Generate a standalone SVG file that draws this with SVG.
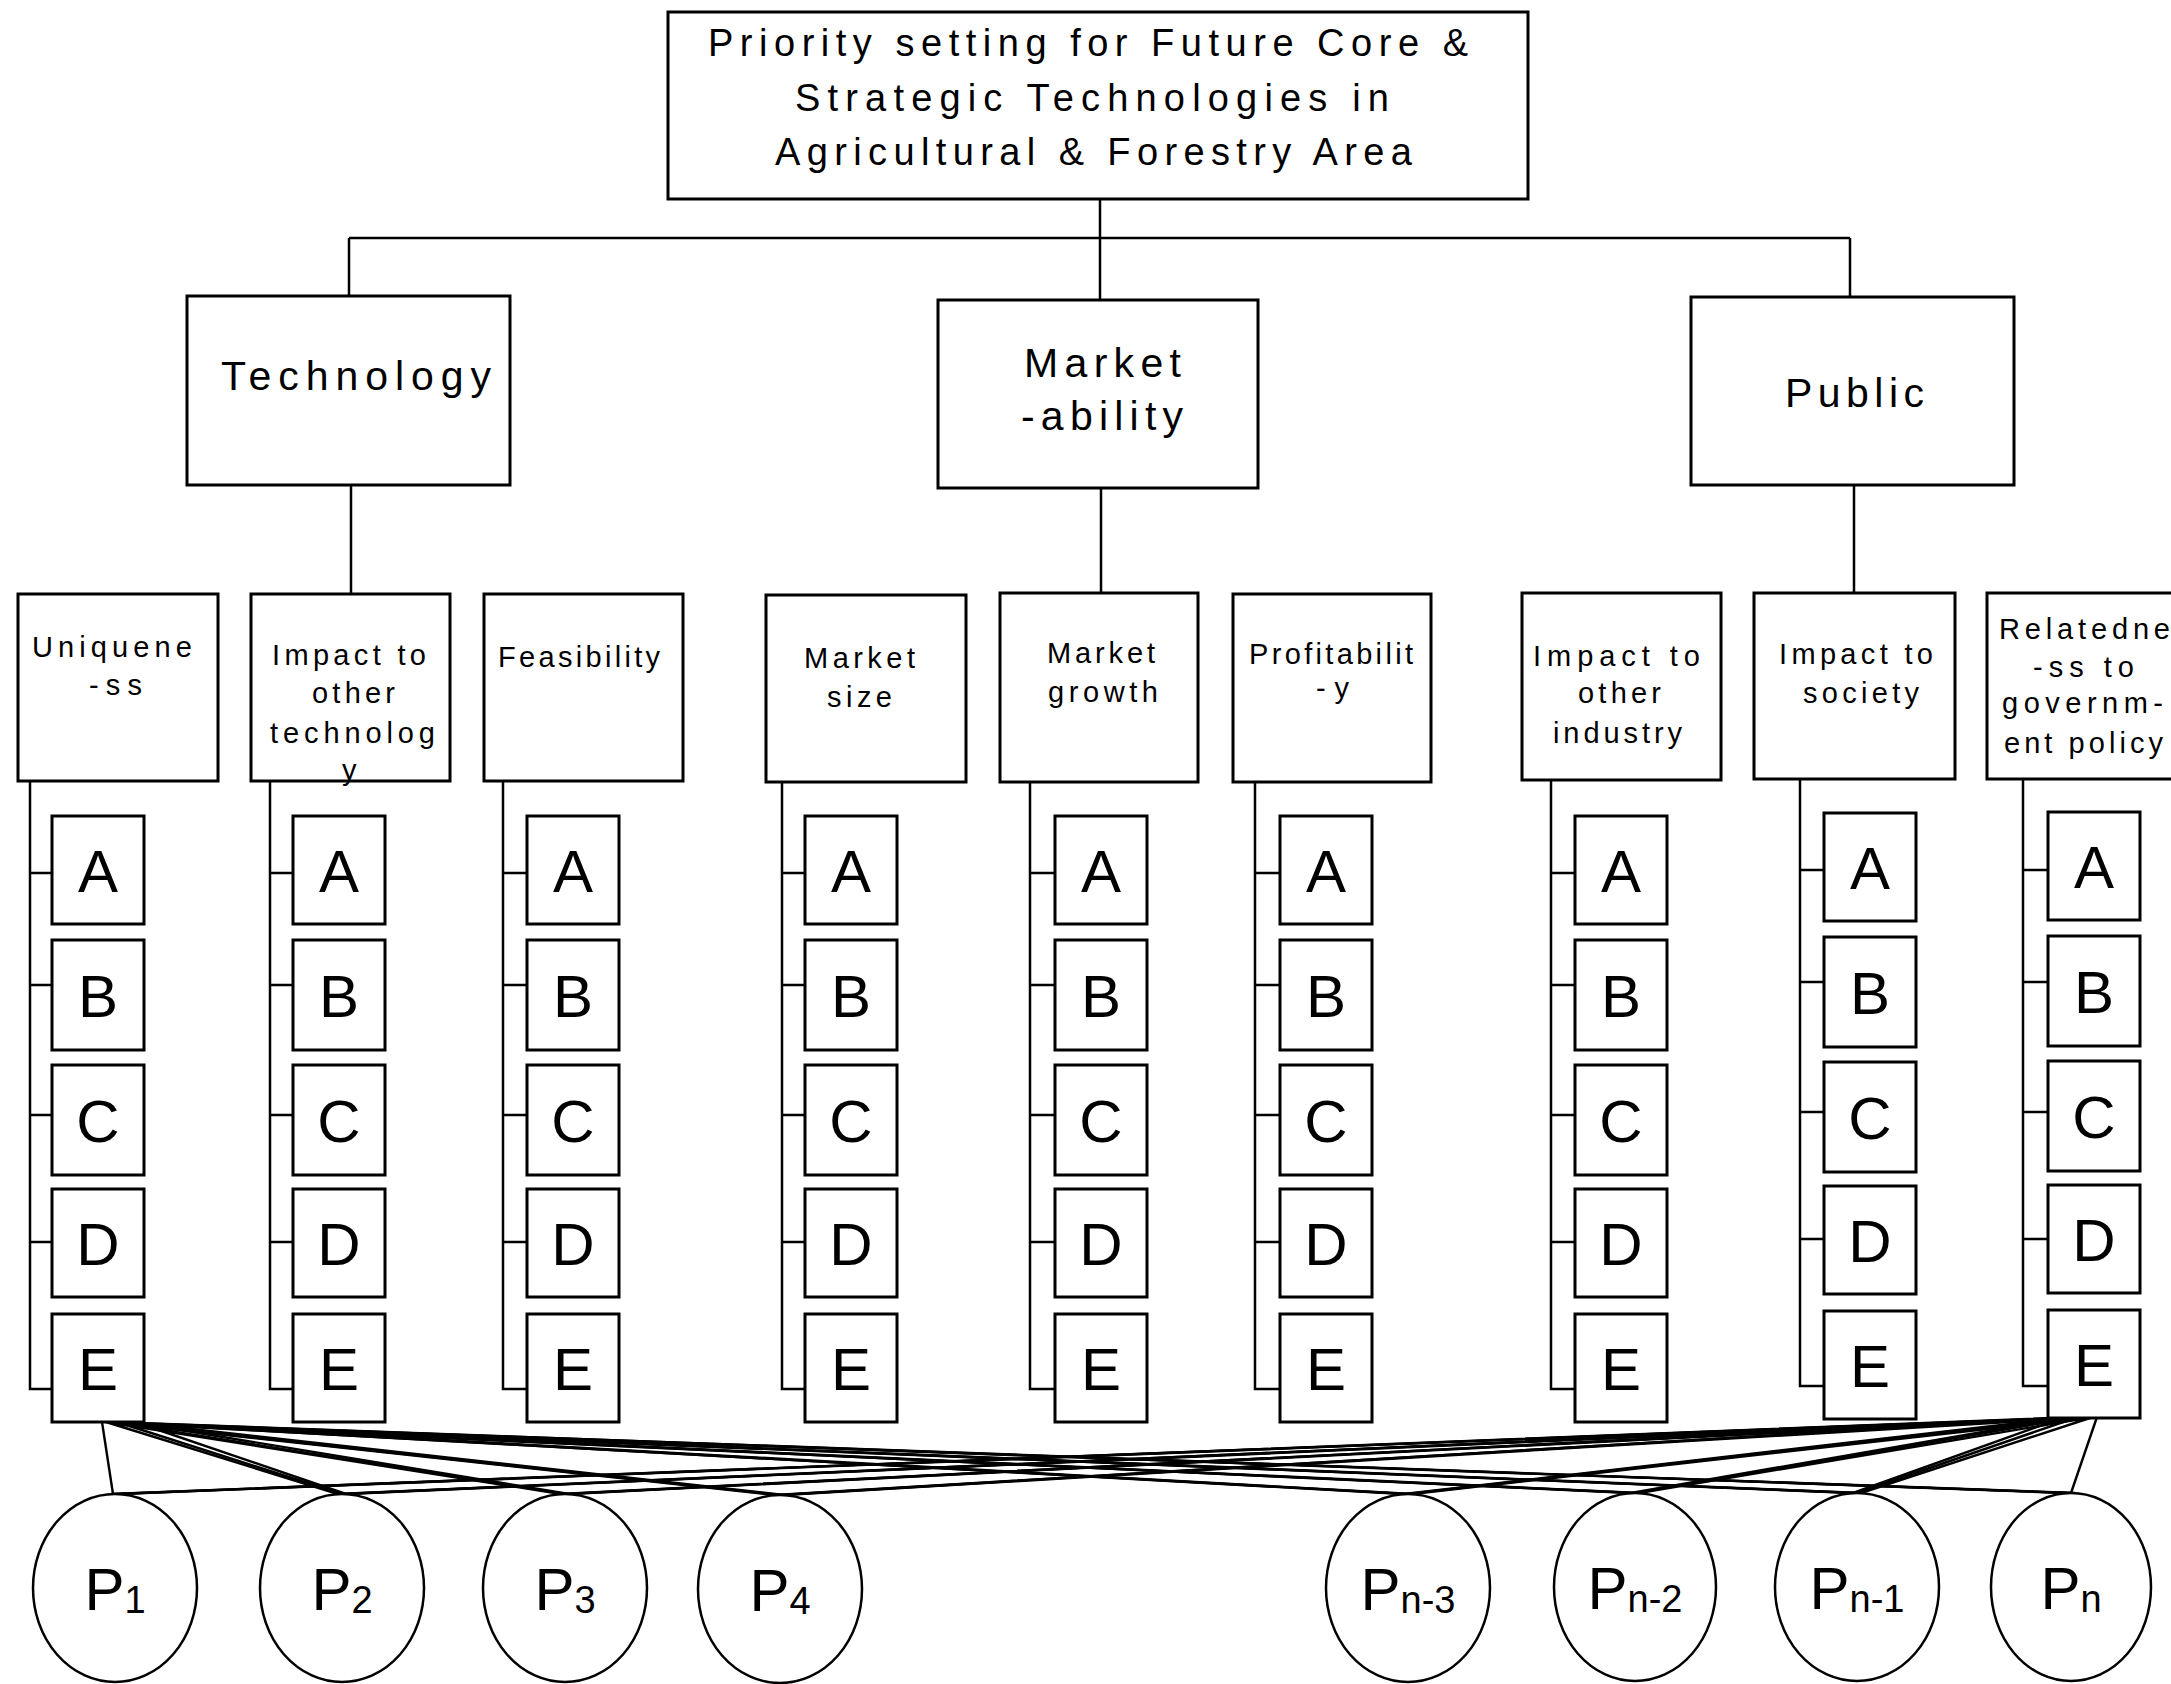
<svg xmlns="http://www.w3.org/2000/svg" width="2171" height="1684" viewBox="0 0 2171 1684">
<style>
.bx{fill:#fff;stroke:#000;stroke-width:3}
.lb{fill:#fff;stroke:#000;stroke-width:3}
.t{font-family:"Liberation Sans",Arial,sans-serif;fill:#000}
.t1{font-size:38px}
.t2{font-size:41px}
.t3{font-size:29px}
.lt{font-size:60px;text-anchor:middle}
.cn{fill:none;stroke:#000;stroke-width:2.5}
.bd{fill:none;stroke:#000;stroke-width:2.4}
.el{fill:#fff;stroke:#000;stroke-width:2.5}
.p{font-size:60px;text-anchor:middle}
.sb{font-size:38px}
</style>
<rect width="2171" height="1684" fill="#fff"/>

<g id="connectors">
<path class="cn" d="M1100 199V238M349 238H1850M349 238V296M1100 238V300M1850 238V297"/>
<path class="cn" d="M351 485V594M1101 488V593M1854 485V593"/>
<path class="cn" d="M30 781V1389H52M30 873H52M30 985H52M30 1115H52M30 1242H52"/>
<path class="cn" d="M270 781V1389H293M270 873H293M270 985H293M270 1115H293M270 1242H293"/>
<path class="cn" d="M503 781V1389H527M503 873H527M503 985H527M503 1115H527M503 1242H527"/>
<path class="cn" d="M782 782V1389H805M782 873H805M782 985H805M782 1115H805M782 1242H805"/>
<path class="cn" d="M1030 782V1389H1055M1030 873H1055M1030 985H1055M1030 1115H1055M1030 1242H1055"/>
<path class="cn" d="M1255 782V1389H1280M1255 873H1280M1255 985H1280M1255 1115H1280M1255 1242H1280"/>
<path class="cn" d="M1551 780V1389H1575M1551 873H1575M1551 985H1575M1551 1115H1575M1551 1242H1575"/>
<path class="cn" d="M1800 779V1386H1824M1800 870H1824M1800 982H1824M1800 1112H1824M1800 1239H1824"/>
<path class="cn" d="M2023 779V1386H2048M2023 870H2048M2023 982H2048M2023 1112H2048M2023 1239H2048"/>
<g id="bundle">
<path class="bd" d="M102 1422L113 1494"/>
<path class="bd" d="M106 1422L338 1494M106 1422L561 1494M106 1422L776 1495M106 1422L1404 1494M106 1422L1631 1493M106 1422L1853 1493M106 1422L2067 1493"/>
<path class="bd" d="M120 1423L342 1494M120 1423L565 1494M120 1423L780 1495M120 1423L1408 1494M120 1423L1635 1493M120 1423L1857 1493M120 1423L2071 1493"/>
<path class="bd" d="M138 1423L346 1494M138 1423L569 1494M138 1423L784 1495M138 1423L1412 1494M138 1423L1639 1493M138 1423L1861 1493M138 1423L2075 1493"/>
<path class="bd" d="M2097 1417L2071 1493"/>
<path class="bd" d="M2093 1417L1861 1493M2093 1417L1639 1493M2093 1417L1412 1494M2093 1417L784 1495M2093 1417L569 1494M2093 1417L346 1494M2093 1417L119 1494"/>
<path class="bd" d="M2078 1417L1857 1493M2078 1417L1635 1493M2078 1417L1408 1494M2078 1417L780 1495M2078 1417L565 1494M2078 1417L342 1494M2078 1417L115 1494"/>
<path class="bd" d="M2062 1418L1853 1493M2062 1418L1631 1493M2062 1418L1404 1494M2062 1418L776 1495M2062 1418L561 1494M2062 1418L338 1494M2062 1418L111 1494"/>
</g>
</g>

<g id="root">
<rect class="bx" x="668" y="12" width="860" height="187"/>
<text class="t t1" x="708" y="56" textLength="760" lengthAdjust="spacing">Priority setting for Future Core &amp;</text>
<text class="t t1" x="795" y="111" textLength="594" lengthAdjust="spacing">Strategic Technologies in</text>
<text class="t t1" x="775" y="165" textLength="637" lengthAdjust="spacing">Agricultural &amp; Forestry Area</text>
</g>

<g id="technology">
<rect class="bx" x="187" y="296" width="323" height="189"/>
<text class="t t2" x="221" y="390" textLength="270" lengthAdjust="spacing">Technology</text>
</g>
<g id="marketability">
<rect class="bx" x="938" y="300" width="320" height="188"/>
<text class="t t2" x="1024" y="377" textLength="157" lengthAdjust="spacing">Market</text>
<text class="t t2" x="1021" y="430" textLength="162" lengthAdjust="spacing">-ability</text>
</g>
<g id="public">
<rect class="bx" x="1691" y="297" width="323" height="188"/>
<text class="t t2" x="1785" y="407" textLength="139" lengthAdjust="spacing">Public</text>
</g>

<g id="uniqueness">
<rect class="bx" x="18" y="594" width="200" height="187"/>
<text class="t t3" x="32" y="657" textLength="160" lengthAdjust="spacing">Uniquene</text>
<text class="t t3" x="89" y="695" textLength="53" lengthAdjust="spacing">-ss</text>
</g>
<g id="impact-tech">
<rect class="bx" x="251" y="594" width="199" height="187"/>
<text class="t t3" x="272" y="665" textLength="154" lengthAdjust="spacing">Impact to</text>
<text class="t t3" x="312" y="703" textLength="83" lengthAdjust="spacing">other</text>
<text class="t t3" x="270" y="743" textLength="165" lengthAdjust="spacing">technolog</text>
<text class="t t3" x="342" y="780">y</text>
</g>
<g id="feasibility">
<rect class="bx" x="484" y="594" width="199" height="187"/>
<text class="t t3" x="498" y="667" textLength="162" lengthAdjust="spacing">Feasibility</text>
</g>
<g id="market-size">
<rect class="bx" x="766" y="595" width="200" height="187"/>
<text class="t t3" x="804" y="668" textLength="111" lengthAdjust="spacing">Market</text>
<text class="t t3" x="827" y="707" textLength="65" lengthAdjust="spacing">size</text>
</g>
<g id="market-growth">
<rect class="bx" x="1000" y="593" width="198" height="189"/>
<text class="t t3" x="1047" y="663" textLength="108" lengthAdjust="spacing">Market</text>
<text class="t t3" x="1048" y="702" textLength="110" lengthAdjust="spacing">growth</text>
</g>
<g id="profitability">
<rect class="bx" x="1233" y="594" width="198" height="188"/>
<text class="t t3" x="1249" y="664" textLength="164" lengthAdjust="spacing">Profitabilit</text>
<text class="t t3" x="1316" y="698" textLength="33" lengthAdjust="spacing">-y</text>
</g>
<g id="impact-industry">
<rect class="bx" x="1522" y="593" width="199" height="187"/>
<text class="t t3" x="1533" y="666" textLength="167" lengthAdjust="spacing">Impact  to</text>
<text class="t t3" x="1578" y="703" textLength="83" lengthAdjust="spacing">other</text>
<text class="t t3" x="1553" y="743" textLength="129" lengthAdjust="spacing">industry</text>
</g>
<g id="impact-society">
<rect class="bx" x="1754" y="593" width="201" height="186"/>
<text class="t t3" x="1779" y="664" textLength="154" lengthAdjust="spacing">Impact to</text>
<text class="t t3" x="1803" y="703" textLength="116" lengthAdjust="spacing">society</text>
</g>
<g id="relatedness">
<rect class="bx" x="1987" y="593" width="210" height="186"/>
<text class="t t3" x="1999" y="639" textLength="171" lengthAdjust="spacing">Relatedne</text>
<text class="t t3" x="2033" y="677" textLength="101" lengthAdjust="spacing">-ss to</text>
<text class="t t3" x="2002" y="713" textLength="161" lengthAdjust="spacing">governm-</text>
<text class="t t3" x="2004" y="753" textLength="159" lengthAdjust="spacing">ent policy</text>
</g>

<defs>
<g id="col">
<rect class="lb" x="0" y="816" width="92" height="108"/>
<text class="t lt" x="46" y="892">A</text>
<rect class="lb" x="0" y="940" width="92" height="110"/>
<text class="t lt" x="46" y="1017">B</text>
<rect class="lb" x="0" y="1065" width="92" height="110"/>
<text class="t lt" x="46" y="1142">C</text>
<rect class="lb" x="0" y="1189" width="92" height="108"/>
<text class="t lt" x="46" y="1265">D</text>
<rect class="lb" x="0" y="1314" width="92" height="108"/>
<text class="t lt" x="46" y="1390">E</text>
</g>
</defs>
<g id="options-1"><use href="#col" x="52" y="0"/></g>
<g id="options-2"><use href="#col" x="293" y="0"/></g>
<g id="options-3"><use href="#col" x="527" y="0"/></g>
<g id="options-4"><use href="#col" x="805" y="0"/></g>
<g id="options-5"><use href="#col" x="1055" y="0"/></g>
<g id="options-6"><use href="#col" x="1280" y="0"/></g>
<g id="options-7"><use href="#col" x="1575" y="0"/></g>
<g id="options-8"><use href="#col" x="1824" y="-3"/></g>
<g id="options-9"><use href="#col" x="2048" y="-4"/></g>

<g id="p1"><ellipse class="el" cx="115" cy="1588" rx="82" ry="94"/><text class="t p" x="115" y="1610">P<tspan class="sb" dy="3">1</tspan></text></g>
<g id="p2"><ellipse class="el" cx="342" cy="1588" rx="82" ry="94"/><text class="t p" x="342" y="1610">P<tspan class="sb" dy="3">2</tspan></text></g>
<g id="p3"><ellipse class="el" cx="565" cy="1588" rx="82" ry="94"/><text class="t p" x="565" y="1610">P<tspan class="sb" dy="3">3</tspan></text></g>
<g id="p4"><ellipse class="el" cx="780" cy="1589" rx="82" ry="94"/><text class="t p" x="780" y="1611">P<tspan class="sb" dy="3">4</tspan></text></g>
<g id="pn-3"><ellipse class="el" cx="1408" cy="1588" rx="82" ry="94"/><text class="t p" x="1408" y="1610">P<tspan class="sb" dy="3">n-3</tspan></text></g>
<g id="pn-2"><ellipse class="el" cx="1635" cy="1587" rx="81" ry="94"/><text class="t p" x="1635" y="1609">P<tspan class="sb" dy="3">n-2</tspan></text></g>
<g id="pn-1"><ellipse class="el" cx="1857" cy="1587" rx="82" ry="94"/><text class="t p" x="1857" y="1609">P<tspan class="sb" dy="3">n-1</tspan></text></g>
<g id="pn"><ellipse class="el" cx="2071" cy="1587" rx="80" ry="94"/><text class="t p" x="2071" y="1609">P<tspan class="sb" dy="3">n</tspan></text></g>
</svg>
